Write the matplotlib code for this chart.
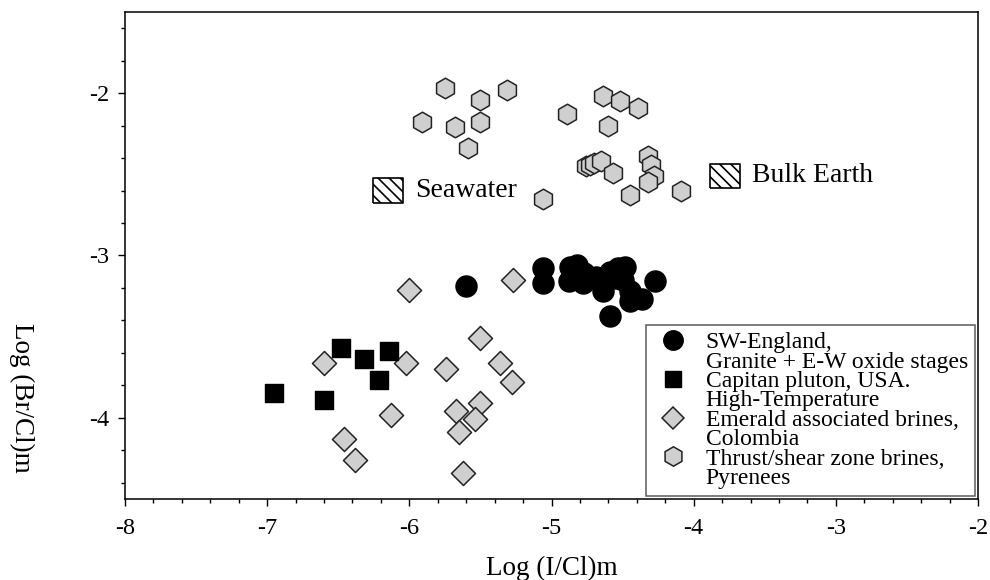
import matplotlib as mpl
mpl.use('Agg')
import matplotlib.pyplot as plt
from matplotlib.lines import Line2D

plt.rcdefaults()
plt.rcParams['font.family'] = ['Liberation Serif', 'DejaVu Serif']
plt.rcParams['hatch.linewidth'] = 1.2

# SW-England, granite + E-W oxide stages
eng_x = [-5.60, -5.06, -5.06, -4.87, -4.88, -4.82, -4.77, -4.78, -4.69, -4.64,
         -4.59, -4.53, -4.48, -4.50, -4.45, -4.45, -4.36, -4.27, -4.59, -4.55]
eng_y = [-3.19, -3.08, -3.17, -3.07, -3.16, -3.06, -3.11, -3.17, -3.13, -3.22,
         -3.10, -3.08, -3.07, -3.15, -3.22, -3.28, -3.27, -3.16, -3.37, -3.14]

# Capitan pluton, USA
cap_x = [-6.48, -6.32, -6.14, -6.21, -6.95, -6.60]
cap_y = [-3.57, -3.64, -3.59, -3.77, -3.85, -3.89]

# Emerald associated brines, Colombia
eme_x = [-6.00, -5.27, -6.60, -6.02, -5.74, -5.50, -5.36, -5.28,
         -6.13, -5.50, -5.67, -5.54, -5.65, -6.46, -6.38, -5.62]
eme_y = [-3.21, -3.15, -3.66, -3.66, -3.70, -3.51, -3.66, -3.78,
         -3.98, -3.91, -3.96, -4.01, -4.09, -4.13, -4.26, -4.34]

# Thrust/shear zone brines, Pyrenees
pyr_x = [-5.75, -5.50, -5.31, -5.91, -5.68, -5.50, -5.59, -4.89, -4.64, -4.52,
         -4.39, -4.60, -4.76, -4.73, -4.70, -4.65, -4.57, -4.32, -4.30, -4.28,
         -4.32, -4.45, -4.09, -5.06]
pyr_y = [-1.97, -2.04, -1.98, -2.18, -2.21, -2.18, -2.34, -2.13, -2.02, -2.05,
         -2.09, -2.20, -2.45, -2.44, -2.43, -2.42, -2.49, -2.39, -2.44, -2.51,
         -2.55, -2.63, -2.60, -2.65]

# reference compositions
ref_names = ['Seawater', 'Bulk Earth']
ref_x = [-6.15, -3.78]
ref_y = [-2.60, -2.51]

legend_lines = ['SW-England,', 'Granite + E-W oxide stages',
                'Capitan pluton, USA.', 'High-Temperature',
                'Emerald associated brines,', 'Colombia',
                'Thrust/shear zone brines,', 'Pyrenees']

gray = '#cfcfcf'

fig = plt.figure(figsize=(9.9, 5.8), dpi=100)
ax = fig.add_axes([125/990, 81/580, 853/990, 487/580])

ax.scatter(pyr_x, pyr_y, marker='h', s=220, facecolor=gray, edgecolor='#222222',
           linewidth=1.1, zorder=3)
ax.scatter(eme_x, eme_y, marker='D', s=150, facecolor=gray, edgecolor='#222222',
           linewidth=1.1, zorder=3)
ax.scatter(cap_x, cap_y, marker='s', s=160, color='black', zorder=3)
ax.scatter(eng_x, eng_y, marker='o', s=230, color='black', zorder=3)

box = [(-1.25, -1), (1.25, -1), (1.25, 1), (-1.25, 1), (-1.25, -1)]
ax.scatter(ref_x, ref_y, marker=box, s=480, facecolor='white', edgecolor='black',
           linewidth=1.2, hatch='\\' * 3, zorder=3)
for name, x, y in zip(ref_names, ref_x, ref_y):
    ax.text(x + 0.19, y, name, fontsize=20, va='center', ha='left')

ax.set_xlim(-8, -2)
ax.set_ylim(-4.5, -1.5)
ax.set_xticks([-8, -7, -6, -5, -4, -3, -2])
ax.set_yticks([-4, -3, -2])
ax.set_xticklabels(['-8', '-7', '-6', '-5', '-4', '-3', '-2'])
ax.set_yticklabels(['-4', '-3', '-2'])
ax.xaxis.set_minor_locator(mpl.ticker.MultipleLocator(0.2))
ax.yaxis.set_minor_locator(mpl.ticker.MultipleLocator(0.2))
ax.tick_params(which='both', direction='out', labelsize=17.5, width=1)
ax.tick_params(which='major', length=5)
ax.tick_params(which='minor', length=3)
ax.tick_params(axis='x', which='major', pad=9)
ax.tick_params(axis='y', which='major', pad=6)
for sp in ax.spines.values():
    sp.set_linewidth(1.1)

ax.set_xlabel('Log (I/Cl)m', fontsize=19.5, va='center')
ax.set_ylabel('Log (Br/Cl)m', fontsize=19.5, rotation=270, va='center', ha='center')
ax.xaxis.set_label_coords(0.5, -0.142)
ax.yaxis.set_label_coords(-0.121, 0.207)

blank = Line2D([], [], linestyle='none', marker='none')
handles = [
    Line2D([], [], linestyle='none', marker='o', markersize=14, color='black'), blank,
    Line2D([], [], linestyle='none', marker='s', markersize=12, color='black'), blank,
    Line2D([], [], linestyle='none', marker='D', markersize=11, markerfacecolor=gray,
           markeredgecolor='#222222', markeredgewidth=1.1), blank,
    Line2D([], [], linestyle='none', marker='h', markersize=14, markerfacecolor=gray,
           markeredgecolor='#222222', markeredgewidth=1.1), blank,
]
leg = ax.legend(handles, legend_lines, loc='lower right', fontsize=17,
                labelspacing=-0.09, handlelength=1.7, handletextpad=0.55,
                borderpad=0.3, borderaxespad=0.12, frameon=True, fancybox=False,
                edgecolor='#333333')
leg.get_frame().set_linewidth(1.1)

plt.savefig('out.png', dpi=100)
